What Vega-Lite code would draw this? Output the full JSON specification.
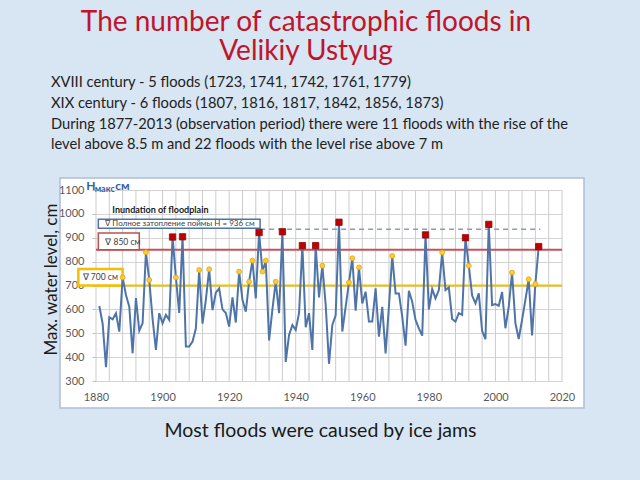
{
  "$schema": "https://vega.github.io/schema/vega-lite/v6.json",
  "autosize": {"type": "none"},
  "width": 524,
  "height": 230,
  "padding": {"left": 60, "top": 178, "right": 56, "bottom": 72},
  "background": "#d8e5f2",
  "view": {"fill": "white", "stroke": "#aebfd6", "strokeWidth": 1.5},
  "config": {"font": "Lato"},
  "title": {
    "text": ["The number of catastrophic floods in", "Velikiy Ustyug"],
    "subtitle": [
      "XVIII century - 5 floods (1723, 1741, 1742, 1761, 1779)",
      "XIX century  -  6 floods (1807, 1816, 1817, 1842, 1856, 1873)",
      "During 1877-2013 (observation period) there were 11 floods with the rise of the",
      "level above 8.5 m and 22 floods with the level rise above 7 m"
    ],
    "color": "#c0142b",
    "font": "Lato",
    "fontSize": 28,
    "fontWeight": "normal",
    "lineHeight": 29,
    "subtitleFont": "Lato",
    "subtitleFontSize": 14.7,
    "subtitleFontWeight": "normal",
    "subtitleColor": "#222222",
    "subtitleLineHeight": 20.7,
    "subtitlePadding": 9,
    "anchor": "middle",
    "frame": "group",
    "dx": -16,
    "offset": 26,
    "encode": {"subtitle": {"update": {"align": {"value": "left"}, "dx": {"value": -271}}}}
  },
  "datasets": {
    "gridYears": [
      {"g": 1880}, {"g": 1884}, {"g": 1888}, {"g": 1892}, {"g": 1896}, {"g": 1900}, {"g": 1904}, {"g": 1908},
      {"g": 1912}, {"g": 1916}, {"g": 1920}, {"g": 1924}, {"g": 1928}, {"g": 1932}, {"g": 1936}, {"g": 1940},
      {"g": 1944}, {"g": 1948}, {"g": 1952}, {"g": 1956}, {"g": 1960}, {"g": 1964}, {"g": 1968}, {"g": 1972},
      {"g": 1976}, {"g": 1980}, {"g": 1984}, {"g": 1988}, {"g": 1992}, {"g": 1996}, {"g": 2000}, {"g": 2004},
      {"g": 2008}, {"g": 2012}, {"g": 2016}, {"g": 2020}
    ]
  },
  "data": {
    "values": [
      {"year": 1881, "h": 614, "f": "n"}, {"year": 1882, "h": 540, "f": "n"}, {"year": 1883, "h": 358, "f": "n"},
      {"year": 1884, "h": 567, "f": "n"}, {"year": 1885, "h": 558, "f": "n"}, {"year": 1886, "h": 584, "f": "n"},
      {"year": 1887, "h": 507, "f": "n"}, {"year": 1888, "h": 734, "f": "y"}, {"year": 1889, "h": 660, "f": "n"},
      {"year": 1890, "h": 611, "f": "n"}, {"year": 1891, "h": 416, "f": "n"}, {"year": 1892, "h": 647, "f": "n"},
      {"year": 1893, "h": 511, "f": "n"}, {"year": 1894, "h": 542, "f": "n"}, {"year": 1895, "h": 839, "f": "y"},
      {"year": 1896, "h": 723, "f": "y"}, {"year": 1897, "h": 560, "f": "n"}, {"year": 1898, "h": 430, "f": "n"},
      {"year": 1899, "h": 584, "f": "n"}, {"year": 1900, "h": 542, "f": "n"}, {"year": 1901, "h": 577, "f": "n"},
      {"year": 1902, "h": 556, "f": "n"}, {"year": 1903, "h": 903, "f": "r"}, {"year": 1904, "h": 734, "f": "y"},
      {"year": 1905, "h": 585, "f": "n"}, {"year": 1906, "h": 904, "f": "r"}, {"year": 1907, "h": 444, "f": "n"},
      {"year": 1908, "h": 444, "f": "n"}, {"year": 1909, "h": 465, "f": "n"}, {"year": 1910, "h": 520, "f": "n"},
      {"year": 1911, "h": 765, "f": "y"}, {"year": 1912, "h": 540, "f": "n"}, {"year": 1913, "h": 640, "f": "n"},
      {"year": 1914, "h": 768, "f": "y"}, {"year": 1915, "h": 597, "f": "n"}, {"year": 1916, "h": 670, "f": "n"},
      {"year": 1917, "h": 688, "f": "n"}, {"year": 1918, "h": 600, "f": "n"}, {"year": 1919, "h": 585, "f": "n"},
      {"year": 1920, "h": 528, "f": "n"}, {"year": 1921, "h": 650, "f": "n"}, {"year": 1922, "h": 545, "f": "n"},
      {"year": 1923, "h": 758, "f": "y"}, {"year": 1924, "h": 640, "f": "n"}, {"year": 1925, "h": 590, "f": "n"},
      {"year": 1926, "h": 716, "f": "y"}, {"year": 1927, "h": 804, "f": "y"}, {"year": 1928, "h": 646, "f": "n"},
      {"year": 1929, "h": 922, "f": "r"}, {"year": 1930, "h": 758, "f": "y"}, {"year": 1931, "h": 804, "f": "y"},
      {"year": 1932, "h": 470, "f": "n"}, {"year": 1933, "h": 600, "f": "n"}, {"year": 1934, "h": 716, "f": "y"},
      {"year": 1935, "h": 584, "f": "n"}, {"year": 1936, "h": 925, "f": "r"}, {"year": 1937, "h": 380, "f": "n"},
      {"year": 1938, "h": 493, "f": "n"}, {"year": 1939, "h": 535, "f": "n"}, {"year": 1940, "h": 514, "f": "n"},
      {"year": 1941, "h": 584, "f": "n"}, {"year": 1942, "h": 867, "f": "r"}, {"year": 1943, "h": 525, "f": "n"},
      {"year": 1944, "h": 584, "f": "n"}, {"year": 1945, "h": 430, "f": "n"}, {"year": 1946, "h": 867, "f": "r"},
      {"year": 1947, "h": 650, "f": "n"}, {"year": 1948, "h": 783, "f": "y"}, {"year": 1949, "h": 620, "f": "n"},
      {"year": 1950, "h": 372, "f": "n"}, {"year": 1951, "h": 535, "f": "n"}, {"year": 1952, "h": 575, "f": "n"},
      {"year": 1953, "h": 965, "f": "r"}, {"year": 1954, "h": 507, "f": "n"}, {"year": 1955, "h": 610, "f": "n"},
      {"year": 1956, "h": 713, "f": "y"}, {"year": 1957, "h": 814, "f": "y"}, {"year": 1958, "h": 595, "f": "n"},
      {"year": 1959, "h": 776, "f": "y"}, {"year": 1960, "h": 625, "f": "n"}, {"year": 1961, "h": 674, "f": "n"},
      {"year": 1962, "h": 549, "f": "n"}, {"year": 1963, "h": 549, "f": "n"}, {"year": 1964, "h": 688, "f": "n"},
      {"year": 1965, "h": 486, "f": "n"}, {"year": 1966, "h": 611, "f": "n"}, {"year": 1967, "h": 416, "f": "n"},
      {"year": 1968, "h": 611, "f": "n"}, {"year": 1969, "h": 824, "f": "y"}, {"year": 1970, "h": 667, "f": "n"},
      {"year": 1971, "h": 667, "f": "n"}, {"year": 1972, "h": 570, "f": "n"}, {"year": 1973, "h": 448, "f": "n"},
      {"year": 1974, "h": 678, "f": "n"}, {"year": 1975, "h": 632, "f": "n"}, {"year": 1976, "h": 556, "f": "n"},
      {"year": 1977, "h": 520, "f": "n"}, {"year": 1978, "h": 490, "f": "n"}, {"year": 1979, "h": 912, "f": "r"},
      {"year": 1980, "h": 600, "f": "n"}, {"year": 1981, "h": 685, "f": "n"}, {"year": 1982, "h": 646, "f": "n"},
      {"year": 1983, "h": 681, "f": "n"}, {"year": 1984, "h": 838, "f": "y"}, {"year": 1985, "h": 681, "f": "n"},
      {"year": 1986, "h": 692, "f": "n"}, {"year": 1987, "h": 560, "f": "n"}, {"year": 1988, "h": 549, "f": "n"},
      {"year": 1989, "h": 584, "f": "n"}, {"year": 1990, "h": 577, "f": "n"}, {"year": 1991, "h": 900, "f": "r"},
      {"year": 1992, "h": 783, "f": "y"}, {"year": 1993, "h": 658, "f": "n"}, {"year": 1994, "h": 625, "f": "n"},
      {"year": 1995, "h": 667, "f": "n"}, {"year": 1996, "h": 510, "f": "n"}, {"year": 1997, "h": 475, "f": "n"},
      {"year": 1998, "h": 956, "f": "r"}, {"year": 1999, "h": 618, "f": "n"}, {"year": 2000, "h": 622, "f": "n"},
      {"year": 2001, "h": 615, "f": "n"}, {"year": 2002, "h": 673, "f": "n"}, {"year": 2003, "h": 521, "f": "n"},
      {"year": 2004, "h": 611, "f": "n"}, {"year": 2005, "h": 754, "f": "y"}, {"year": 2006, "h": 542, "f": "n"},
      {"year": 2007, "h": 476, "f": "n"}, {"year": 2008, "h": 556, "f": "n"}, {"year": 2009, "h": 640, "f": "n"},
      {"year": 2010, "h": 726, "f": "y"}, {"year": 2011, "h": 491, "f": "n"}, {"year": 2012, "h": 706, "f": "y"},
      {"year": 2013, "h": 863, "f": "r"}
    ]
  },
  "resolve": {"axis": {"x": "independent", "y": "independent"}},
  "layer": [
    {
      "mark": {"type": "line", "color": "#4f74a8", "strokeWidth": 2, "opacity": 0},
      "encoding": {
        "x": {
          "field": "year", "type": "quantitative",
          "scale": {"domain": [1880, 2020], "range": [36, 502], "nice": false, "zero": false},
          "axis": {
            "orient": "bottom", "offset": -27,
            "values": [1880, 1900, 1920, 1940, 1960, 1980, 2000, 2020],
            "format": "d",
            "labelFlush": false, "labelOverlap": false,
            "grid": false, "ticks": false, "domain": false,
            "labelFont": "Lato", "labelFontSize": 11, "labelColor": "#595959", "labelPadding": 10,
            "title": "Most floods were caused by ice jams",
            "titleFont": "Lato", "titleFontSize": 19.5, "titleFontWeight": "normal", "titleColor": "#1a1a1a",
            "titleX": 260, "titleY": 49, "titleAlign": "center", "titleBaseline": "middle"
          }
        },
        "y": {
          "field": "h", "type": "quantitative",
          "scale": {"domain": [300, 1100], "range": [203, 12], "nice": false, "zero": false},
          "axis": {
            "orient": "left", "offset": -36,
            "values": [300, 400, 500, 600, 700, 800, 900, 1000, 1100],
            "format": "d",
            "labelOverlap": false,
            "grid": true, "gridColor": "#d4d4d4", "gridWidth": 1,
            "ticks": true, "tickSize": 4, "tickColor": "#bfbfbf", "domain": false,
            "labelFont": "Lato", "labelFontSize": 11, "labelColor": "#595959", "labelPadding": 8,
            "title": "Max. water level, cm",
            "titleFont": "Lato", "titleFontSize": 17, "titleFontWeight": "normal", "titleColor": "#1a1a1a",
            "titleX": -45, "titleY": 101, "titleAngle": 270, "titleAlign": "center", "titleBaseline": "middle"
          }
        }
      }
    },
    {
      "data": {"name": "gridYears"},
      "mark": {"type": "rule", "color": "#cccccc", "strokeWidth": 1},
      "encoding": {
        "x": {"field": "g", "type": "quantitative", "axis": null},
        "y": {"datum": 300, "type": "quantitative", "axis": null},
        "y2": {"datum": 1100}
      }
    },
    {
      "data": {"values": [{}]},
      "mark": {"type": "rule", "color": "#f2c000", "strokeWidth": 2},
      "encoding": {
        "x": {"datum": 1880, "type": "quantitative", "axis": null},
        "x2": {"datum": 2020},
        "y": {"datum": 700, "type": "quantitative", "axis": null}
      }
    },
    {
      "data": {"values": [{}]},
      "mark": {"type": "rule", "color": "#c8505a", "strokeWidth": 2},
      "encoding": {
        "x": {"datum": 1880, "type": "quantitative", "axis": null},
        "x2": {"datum": 2020},
        "y": {"datum": 850, "type": "quantitative", "axis": null}
      }
    },
    {
      "data": {"values": [{}]},
      "mark": {"type": "rule", "color": "#8e9bb0", "strokeWidth": 1.5, "strokeDash": [5, 4]},
      "encoding": {
        "x": {"datum": 1929.3, "type": "quantitative", "axis": null},
        "x2": {"datum": 2013.5},
        "y": {"datum": 936, "type": "quantitative", "axis": null}
      }
    },
    {
      "data": {"values": [{}]},
      "mark": {"type": "rect", "fill": "white", "stroke": "#4f74a8", "strokeWidth": 1.5},
      "encoding": {
        "x": {"datum": 1880.7, "type": "quantitative", "axis": null},
        "x2": {"datum": 1929.3},
        "y": {"datum": 977, "type": "quantitative", "axis": null},
        "y2": {"datum": 940}
      }
    },
    {
      "data": {"values": [{}]},
      "mark": {"type": "rect", "fill": "white", "stroke": "#c0504d", "strokeWidth": 1.5},
      "encoding": {
        "x": {"datum": 1880.7, "type": "quantitative", "axis": null},
        "x2": {"datum": 1893},
        "y": {"datum": 920, "type": "quantitative", "axis": null},
        "y2": {"datum": 850}
      }
    },
    {
      "data": {"values": [{}]},
      "mark": {"type": "rect", "fill": "white", "stroke": "#f2c000", "strokeWidth": 2.5},
      "encoding": {
        "x": {"datum": 1874.7, "type": "quantitative", "axis": null},
        "x2": {"datum": 1888},
        "y": {"datum": 769, "type": "quantitative", "axis": null},
        "y2": {"datum": 700}
      }
    },
    {
      "data": {"values": [{}]},
      "mark": {"type": "text", "text": "∇ Полное затопление поймы H = 936 см", "font": "Lato", "fontSize": 8, "color": "#404040", "align": "left", "baseline": "middle"},
      "encoding": {
        "x": {"datum": 1882.8, "type": "quantitative", "axis": null},
        "y": {"datum": 958, "type": "quantitative", "axis": null}
      }
    },
    {
      "data": {"values": [{}]},
      "mark": {"type": "text", "text": "∇ 850 см", "font": "Lato", "fontSize": 8.5, "color": "#404040", "align": "left", "baseline": "middle"},
      "encoding": {
        "x": {"datum": 1882.8, "type": "quantitative", "axis": null},
        "y": {"datum": 884, "type": "quantitative", "axis": null}
      }
    },
    {
      "data": {"values": [{}]},
      "mark": {"type": "text", "text": "∇ 700 см", "font": "Lato", "fontSize": 8.5, "color": "#404040", "align": "left", "baseline": "middle"},
      "encoding": {
        "x": {"datum": 1876.0, "type": "quantitative", "axis": null},
        "y": {"datum": 736, "type": "quantitative", "axis": null}
      }
    },
    {
      "data": {"values": [{}]},
      "mark": {"type": "text", "text": "Inundation of floodplain", "font": "Lato", "fontSize": 9, "fontWeight": "bold", "color": "#1a1a1a", "align": "left", "baseline": "middle"},
      "encoding": {
        "x": {"datum": 1884.9, "type": "quantitative", "axis": null},
        "y": {"datum": 1016, "type": "quantitative", "axis": null}
      }
    },
    {
      "data": {"values": [{}]},
      "mark": {"type": "text", "text": "Н", "font": "Lato", "fontSize": 12, "fontWeight": "bold", "color": "#2f62a8", "align": "left", "baseline": "alphabetic"},
      "encoding": {
        "x": {"datum": 1877.1, "type": "quantitative", "axis": null},
        "y": {"datum": 1100, "type": "quantitative", "axis": null}
      }
    },
    {
      "data": {"values": [{}]},
      "mark": {"type": "text", "text": "макс", "font": "Lato", "fontSize": 9, "fontWeight": "bold", "color": "#2f62a8", "align": "left", "baseline": "alphabetic"},
      "encoding": {
        "x": {"datum": 1879.6, "type": "quantitative", "axis": null},
        "y": {"datum": 1092, "type": "quantitative", "axis": null}
      }
    },
    {
      "data": {"values": [{}]},
      "mark": {"type": "text", "text": "см", "font": "Lato", "fontSize": 12, "fontWeight": "bold", "color": "#2f62a8", "align": "left", "baseline": "alphabetic"},
      "encoding": {
        "x": {"datum": 1885.8, "type": "quantitative", "axis": null},
        "y": {"datum": 1100, "type": "quantitative", "axis": null}
      }
    },
    {
      "mark": {"type": "line", "color": "#4f74a8", "strokeWidth": 2},
      "encoding": {
        "x": {"field": "year", "type": "quantitative", "axis": null},
        "y": {"field": "h", "type": "quantitative", "axis": null}
      }
    },
    {
      "transform": [{"filter": "datum.f === 'r'"}],
      "mark": {"type": "square", "size": 40, "fill": "#c00000", "stroke": "#8c0a0a", "strokeWidth": 0.8, "opacity": 1},
      "encoding": {
        "x": {"field": "year", "type": "quantitative", "axis": null},
        "y": {"field": "h", "type": "quantitative", "axis": null}
      }
    },
    {
      "transform": [{"filter": "datum.f === 'y'"}],
      "mark": {"type": "circle", "size": 24, "fill": "#ffc83d", "stroke": "#e0a800", "strokeWidth": 0.8, "opacity": 1},
      "encoding": {
        "x": {"field": "year", "type": "quantitative", "axis": null},
        "y": {"field": "h", "type": "quantitative", "axis": null}
      }
    }
  ]
}
